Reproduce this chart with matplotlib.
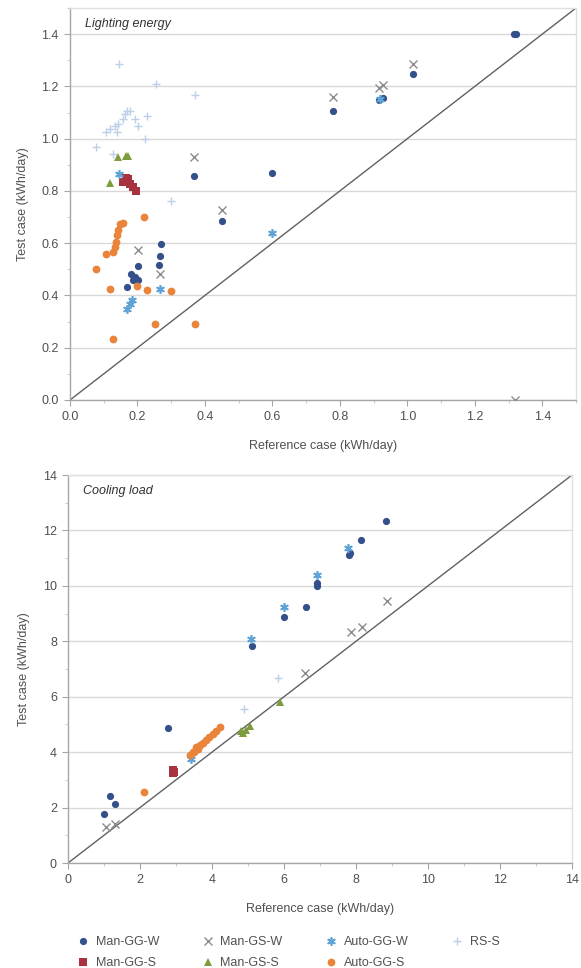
import matplotlib
matplotlib.use("Agg")
import matplotlib.pyplot as plt
from matplotlib.ticker import MultipleLocator, FormatStrFormatter

plt.rcParams['font.family'] = ['Liberation Sans', 'DejaVu Sans']

series_names = ["Man-GG-W", "Man-GG-S", "Man-GS-W", "Man-GS-S", "Auto-GG-W", "Auto-GG-S", "RS-S"]

# ---- Lighting energy (top) ----
light_man_gg_w_x = [0.170, 0.182, 0.187, 0.192, 0.202, 0.202, 0.264, 0.266, 0.269, 0.450, 0.367, 0.600, 0.779, 0.917, 0.927, 1.016, 1.317, 1.323]
light_man_gg_w_y = [0.433, 0.483, 0.458, 0.470, 0.458, 0.511, 0.515, 0.550, 0.598, 0.684, 0.859, 0.868, 1.104, 1.148, 1.154, 1.247, 1.400, 1.400]
light_man_gg_s_x = [0.158, 0.167, 0.172, 0.178, 0.186, 0.195]
light_man_gg_s_y = [0.835, 0.850, 0.845, 0.826, 0.815, 0.800]
light_man_gs_w_x = [0.266, 0.202, 0.367, 0.450, 0.779, 0.917, 0.929, 1.016, 1.320]
light_man_gs_w_y = [0.483, 0.575, 0.931, 0.728, 1.158, 1.194, 1.206, 1.287, 0.000]
light_man_gs_s_x = [0.118, 0.143, 0.165, 0.172]
light_man_gs_s_y = [0.830, 0.930, 0.935, 0.935]
light_auto_gg_w_x = [0.600, 0.266, 0.178, 0.185, 0.170, 0.146, 0.920]
light_auto_gg_w_y = [0.639, 0.426, 0.369, 0.382, 0.350, 0.866, 1.150]
light_auto_gg_s_x = [0.077, 0.108, 0.128, 0.133, 0.136, 0.138, 0.143, 0.148, 0.158, 0.220, 0.120, 0.199, 0.229, 0.300, 0.253, 0.370, 0.128]
light_auto_gg_s_y = [0.503, 0.557, 0.566, 0.585, 0.604, 0.630, 0.649, 0.674, 0.677, 0.702, 0.426, 0.435, 0.422, 0.417, 0.289, 0.289, 0.233]
light_rs_s_x = [0.146, 0.254, 0.370, 0.077, 0.118, 0.133, 0.143, 0.158, 0.168, 0.178, 0.163, 0.192, 0.202, 0.229, 0.222, 0.128, 0.108, 0.138, 0.300]
light_rs_s_y = [1.285, 1.211, 1.168, 0.970, 1.037, 1.050, 1.056, 1.075, 1.107, 1.104, 1.094, 1.075, 1.050, 1.088, 0.998, 0.940, 1.024, 1.024, 0.761]

# ---- Cooling load (bottom) ----
cool_man_gg_w_x = [0.99, 1.17, 1.30, 2.79, 5.10, 6.01, 6.60, 6.91, 6.91, 7.80, 7.82, 8.14, 8.83]
cool_man_gg_w_y = [1.78, 2.41, 2.12, 4.88, 7.83, 8.89, 9.22, 10.00, 10.10, 11.10, 11.20, 11.64, 12.35]
cool_man_gg_s_x = [2.91, 2.91, 2.95]
cool_man_gg_s_y = [3.35, 3.23, 3.30]
cool_man_gs_w_x = [1.05, 1.30, 6.59, 7.85, 8.16, 8.87]
cool_man_gs_w_y = [1.30, 1.42, 6.87, 8.35, 8.51, 9.47]
cool_man_gs_s_x = [4.80, 4.87, 4.95, 5.05, 5.89]
cool_man_gs_s_y = [4.75, 4.70, 4.80, 4.94, 5.82]
cool_auto_gg_w_x = [5.08, 6.01, 6.91, 7.78, 3.42]
cool_auto_gg_w_y = [8.07, 9.22, 10.40, 11.36, 3.77]
cool_auto_gg_s_x = [2.12, 3.38, 3.47, 3.50, 3.56, 3.60, 3.66, 3.75, 3.84, 3.93, 4.02, 4.12, 4.21]
cool_auto_gg_s_y = [2.57, 3.90, 4.02, 4.00, 4.17, 4.10, 4.24, 4.32, 4.44, 4.53, 4.65, 4.77, 4.89]
cool_rs_s_x = [4.90, 5.84]
cool_rs_s_y = [5.55, 6.66]

colors = {
    "Man-GG-W": "#34508A",
    "Man-GG-S": "#A8323E",
    "Man-GS-W": "#8C8C8C",
    "Man-GS-S": "#7E9B3E",
    "Auto-GG-W": "#5FA3D6",
    "Auto-GG-S": "#E9843A",
    "RS-S": "#BCCFE8",
}
markers = {
    "Man-GG-W": ("o", 5.2, 0),
    "Man-GG-S": ("s", 5.2, 0),
    "Man-GS-W": ("x", 5.2, 1.0),
    "Man-GS-S": ("^", 5.8, 0),
    "Auto-GG-W": ((6, 2, 0), 6.2, 1.2),
    "Auto-GG-S": ("o", 5.6, 0),
    "RS-S": ("+", 5.5, 1.0),
}

light = {
    "Man-GG-W": (light_man_gg_w_x, light_man_gg_w_y),
    "Man-GG-S": (light_man_gg_s_x, light_man_gg_s_y),
    "Man-GS-W": (light_man_gs_w_x, light_man_gs_w_y),
    "Man-GS-S": (light_man_gs_s_x, light_man_gs_s_y),
    "Auto-GG-W": (light_auto_gg_w_x, light_auto_gg_w_y),
    "Auto-GG-S": (light_auto_gg_s_x, light_auto_gg_s_y),
    "RS-S": (light_rs_s_x, light_rs_s_y),
}
cool = {
    "Man-GG-W": (cool_man_gg_w_x, cool_man_gg_w_y),
    "Man-GG-S": (cool_man_gg_s_x, cool_man_gg_s_y),
    "Man-GS-W": (cool_man_gs_w_x, cool_man_gs_w_y),
    "Man-GS-S": (cool_man_gs_s_x, cool_man_gs_s_y),
    "Auto-GG-W": (cool_auto_gg_w_x, cool_auto_gg_w_y),
    "Auto-GG-S": (cool_auto_gg_s_x, cool_auto_gg_s_y),
    "RS-S": (cool_rs_s_x, cool_rs_s_y),
}

W, H = 581, 968
fig = plt.figure(figsize=(W / 100, H / 100), dpi=100)
ax1 = fig.add_axes([70 / W, 1 - 400 / H, (576 - 70) / W, (400 - 8) / H])
ax2 = fig.add_axes([68 / W, 1 - 863 / H, (572 - 68) / W, (863 - 475) / H])

label_color = "#505050"
fs = 9

def style(ax, lim, major, minor, fmt, title):
    ax.set_xlim(0, lim)
    ax.set_ylim(0, lim)
    ax.xaxis.set_major_locator(MultipleLocator(major))
    ax.yaxis.set_major_locator(MultipleLocator(major))
    ax.xaxis.set_minor_locator(MultipleLocator(minor))
    ax.yaxis.set_minor_locator(MultipleLocator(minor))
    ax.xaxis.set_major_formatter(FormatStrFormatter(fmt))
    ax.yaxis.set_major_formatter(FormatStrFormatter(fmt))
    ax.grid(axis="y", which="major", color="#D9D9D9", linewidth=1.0)
    ax.set_axisbelow(True)
    for s in ["left", "bottom"]:
        ax.spines[s].set_color("#A6A6A6")
        ax.spines[s].set_linewidth(1.0)
    for s in ["top", "right"]:
        ax.spines[s].set_color("#E0E0E0")
        ax.spines[s].set_linewidth(1.0)
    ax.tick_params(which="major", direction="out", length=4, color="#A6A6A6", labelsize=fs, labelcolor=label_color, pad=4)
    ax.tick_params(which="minor", direction="out", length=2, color="#C0C0C0")
    ax.set_xlabel("Reference case (kWh/day)", fontsize=fs, color=label_color, labelpad=12)
    ax.set_ylabel("Test case (kWh/day)", fontsize=fs, color=label_color, labelpad=9)
    ax.text(0.03, 0.975, title, transform=ax.transAxes, style="italic", fontsize=fs, color="#303030", va="top", ha="left")
    ax.plot([0, lim], [0, lim], color="#606060", linewidth=1.0, zorder=2)

def draw(ax, data):
    handles = []
    for name in series_names:
        xs, ys = data[name]
        m, ms, mew = markers[name]
        (h,) = ax.plot(xs, ys, linestyle="none", marker=m, markersize=ms,
                       markeredgewidth=mew, color=colors[name], label=name, zorder=3)
        handles.append(h)
    return handles

style(ax1, 1.5, 0.2, 0.1, "%.1f", "Lighting energy")
style(ax2, 14, 2, 1, "%d", "Cooling load")
draw(ax1, light)
handles = draw(ax2, cool)

leg = fig.legend(handles=handles, labels=series_names, ncol=4, loc="upper left",
                 bbox_to_anchor=(72 / W, 1 - 931 / H), frameon=False, fontsize=fs,
                 handletextpad=0.5, columnspacing=3.4, labelspacing=0.75,
                 handlelength=1.0, borderaxespad=0)
for t in leg.get_texts():
    t.set_color(label_color)

fig.savefig("out.png", dpi=100)
